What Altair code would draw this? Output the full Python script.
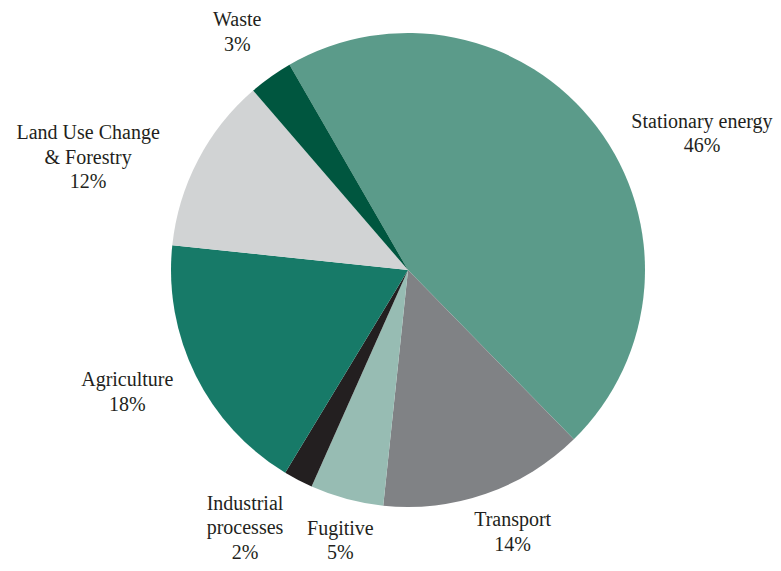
import math
import altair as alt
import pandas as pd

categories = ["Stationary energy", "Transport", "Fugitive", "Industrial processes",
              "Agriculture", "Land Use Change & Forestry", "Waste"]
label_text = ["Stationary energy", "Transport", "Fugitive", "Industrial\nprocesses",
              "Agriculture", "Land Use Change\n& Forestry", "Waste"]
shares = [46, 14, 5, 2, 18, 12, 3]
colors = ["#5b9b8a", "#808285", "#97bcb3", "#231f20", "#177a68", "#d1d3d4", "#00563f"]

df = pd.DataFrame({
    "category": categories,
    "share": shares,
    "order": list(range(len(categories))),
    "label": [f"{t}\n{s}%" for t, s in zip(label_text, shares)],
})

start = -math.pi / 6
theta = alt.Theta("share:Q", stack=True,
                  scale=alt.Scale(range=[start, start + 2 * math.pi]))
cx, cy = alt.value(400), alt.value(262)

base = alt.Chart(df)

pie = base.mark_arc(radius=237).encode(
    theta=theta,
    order=alt.Order("order:Q"),
    color=alt.Color("category:N", sort=categories,
                    scale=alt.Scale(domain=categories, range=colors), legend=None),
    x=cx, y=cy,
)

# label placement nudges (layout only), like the reference's best-fit labels
nudges = {
    "Stationary energy": (55, 33),
    "Transport": (6, -33),
    "Fugitive": (10, -31),
    "Industrial processes": (-24, -32),
    "Agriculture": (-12, -23),
    "Land Use Change & Forestry": (-54, 2),
    "Waste": (3, -5),
}

layers = [pie]
for cat in categories:
    ddx, ddy = nudges[cat]
    layers.append(
        base.mark_text(radius=300, font="Liberation Serif", fontSize=20,
                       lineHeight=24.5, lineBreak="\n", color="#231f20",
                       align="center", baseline="middle", dx=ddx, dy=ddy).encode(
            theta=theta,
            order=alt.Order("order:Q"),
            text=alt.condition(alt.datum.category == cat, "label:N", alt.value("")),
            x=cx, y=cy,
        )
    )

chart = alt.layer(*layers).properties(
    width=765, height=555,
    autosize=alt.AutoSizeParams(type="none"),
    padding=0,
).configure_view(stroke=None)

chart.save("out.html", embed_options={"renderer": "svg", "actions": False})
